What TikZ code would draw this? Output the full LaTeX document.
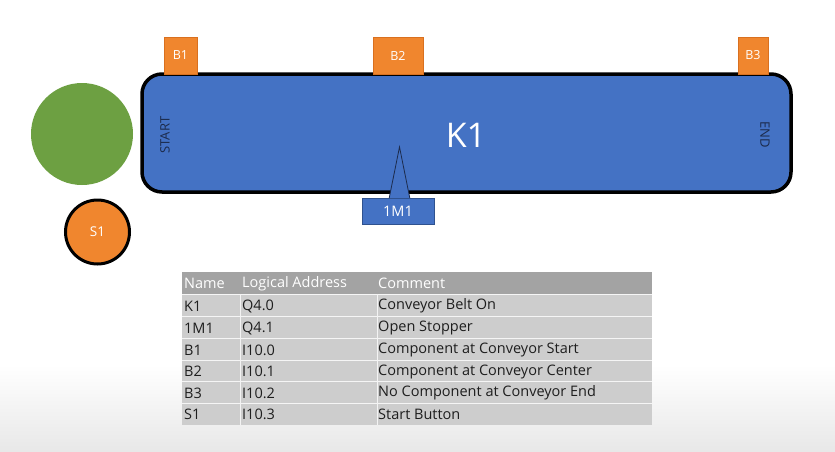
\documentclass[tikz,border=0pt]{standalone}
\usepackage{fontspec}
\setmainfont{Open Sans}
\definecolor{beltblue}{HTML}{4472C4}
\definecolor{beltedge}{HTML}{2F528F}
\definecolor{sensor}{HTML}{F0862E}
\definecolor{sensoredge}{HTML}{D9701F}
\definecolor{lampgreen}{HTML}{6DA042}
\definecolor{navytext}{HTML}{1C2B4C}
\definecolor{hdrgray}{HTML}{A3A3A3}
\definecolor{rowgray}{HTML}{CDCDCD}
\definecolor{tabtext}{HTML}{1E1E1E}
\tikzset{
  sensorbox/.style={rectangle, fill=sensor, draw=sensoredge, line width=0.6pt, text=white, font=\fontsize{12.5}{14}\selectfont, inner sep=0pt},
  celltext/.style={anchor=west, text=tabtext, font=\fontsize{14.5}{16}\selectfont, inner sep=0pt},
  hdrtext/.style={anchor=west, text=white, font=\fontsize{14.5}{16}\selectfont, inner sep=0pt},
  sidetext/.style={text=navytext, font=\fontsize{13}{15}\selectfont, inner sep=0pt}
}
\begin{document}
\begin{tikzpicture}[x=1pt,y=-1pt]
\useasboundingbox (0,0) rectangle (835,451);
\fill[white] (0,0) rectangle (835,451);
\shade[top color=white, bottom color=black!9] (0,365) rectangle (835,451);

% belt
\node[rectangle, rounded corners=20pt, fill=beltblue, draw=black, line width=3.5pt,
      minimum width=649pt, minimum height=118pt, inner sep=0pt] (belt) at (466.5,133) {};
\node[text=white, font=\fontsize{34}{36}\selectfont, inner sep=0pt] (k1) at (466,135) {K1};
\node[sidetext, rotate=90] (start) at (165,135) {START};
\node[sidetext, rotate=-90] (end) at (765,135) {END};

% sensors
\node[sensorbox, minimum width=33pt, minimum height=37pt] (b1) at (180.5,55.5) {B1};
\node[sensorbox, minimum width=50pt, minimum height=37pt] (b2) at (398,55.5) {B2};
\node[sensorbox, minimum width=30pt, minimum height=37pt] (b3) at (753,55.5) {B3};

% stopper
\coordinate (tipL) at (389,199);
\coordinate (tipT) at (399.5,147);
\coordinate (tipR) at (410,199);
\filldraw[fill=beltblue, draw=navytext, line width=0.8pt] (tipL) -- (tipT) -- (tipR);
\node[rectangle, fill=beltblue, draw=beltedge, line width=0.8pt, text=white,
      minimum width=72pt, minimum height=26pt, inner sep=0pt,
      font=\fontsize{14.5}{16}\selectfont] (m1) at (398,211) {1M1};

% lamp and button
\node[circle, fill=lampgreen, minimum size=102pt, inner sep=0pt] (lamp) at (82,134) {};
\node[circle, fill=sensor, draw=black, line width=3pt, minimum size=64pt, inner sep=0pt,
      text=white, font=\fontsize{13.5}{15}\selectfont] (s1) at (97.5,232) {S1};

% table
\fill[rowgray] (182,294) rectangle (652,425);
\fill[hdrgray] (182,272) rectangle (652,294);
\foreach \yy in {294,316,338,360,381,403}
  \draw[white!80!rowgray, line width=0.8pt] (182,\yy) -- (652,\yy);
\draw[white!75!rowgray, line width=0.6pt] (240,294) -- (240,425);
\draw[white!75!rowgray, line width=0.6pt] (377,294) -- (377,425);

\node[hdrtext] (h1) at (184,283.5) {Name};
\node[hdrtext] (h2) at (242,283.5) {Logical Address};
\node[hdrtext] (h3) at (378,283.5) {Comment};

\node[celltext] (r1a) at (184,306) {K1};
\node[celltext] (r1b) at (242,306) {Q4.0};
\node[celltext] (r1c) at (378,306) {Conveyor Belt On};
\node[celltext] (r2a) at (184,328) {1M1};
\node[celltext] (r2b) at (242,328) {Q4.1};
\node[celltext] (r2c) at (378,328) {Open Stopper};
\node[celltext] (r3a) at (184,350) {B1};
\node[celltext] (r3b) at (242,350) {I10.0};
\node[celltext] (r3c) at (378,350) {Component at Conveyor Start};
\node[celltext] (r4a) at (184,371.5) {B2};
\node[celltext] (r4b) at (242,371.5) {I10.1};
\node[celltext] (r4c) at (378,371.5) {Component at Conveyor Center};
\node[celltext] (r5a) at (184,393) {B3};
\node[celltext] (r5b) at (242,393) {I10.2};
\node[celltext] (r5c) at (378,393) {No Component at Conveyor End};
\node[celltext] (r6a) at (184,414.5) {S1};
\node[celltext] (r6b) at (242,414.5) {I10.3};
\node[celltext] (r6c) at (378,414.5) {Start Button};
\end{tikzpicture}
\end{document}
